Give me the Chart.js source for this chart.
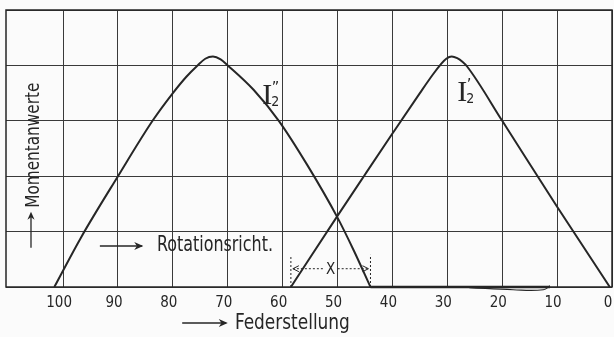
<!DOCTYPE html>
<html>
<head>
<meta charset="utf-8">
<script src="https://cdn.jsdelivr.net/npm/chart.js@4/dist/chart.umd.min.js"></script>
<style>
	html, body { margin: 0; padding: 0; background: #fbfbfb; }
	canvas { display: block; }
</style>
</head>
<body>
<canvas id="chart" width="614" height="337"></canvas>
<script>
// Federstellung (x) and Momentanwerte (y)
var I2b_x = [101.6, 96.7, 90, 83.7, 80, 77.5, 75.5, 74.1, 72.7, 71.3, 70, 65.3, 60.7, 55.5, 50.1, 47, 44];
var I2b_y = [0, 0.9, 2.0, 3.0, 3.5, 3.8, 4.0, 4.12, 4.16, 4.11, 4.0, 3.56, 3.0, 2.2, 1.27, 0.65, 0];

var I2a_x = [58.5, 50.1, 45.2, 40, 35, 32.6, 31.2, 30.2, 29.2, 28.2, 27.2, 26.4, 20, 10, 0.4];
var I2a_y = [0, 1.27, 2.0, 2.77, 3.5, 3.84, 4.02, 4.12, 4.16, 4.13, 4.06, 3.98, 3.0, 1.45, 0];

// thick zero line under I2' (pen stroke on the baseline)
var base_x = [44, 30, 20, 11.3];
var base_y = [0, 0, 0, 0];
var hook_x = [26, 18, 12.5, 11.3];
var hook_y = [-0.01, -0.05, -0.05, 0.02];

var xTicks = [100, 90, 80, 70, 60, 50, 40, 30, 20, 10, 0];
var X_MAX = 110.4;   // left border of the frame

// dimension "x" (between the zero crossings)
var dimFrom = 58.5, dimTo = 44;

var FONT = '"Liberation Sans Narrow", "DejaVu Sans Condensed", "Arial Narrow", sans-serif';
var INK = '#262626';

function pts(xs, ys) {
	var out = [];
	for (var i = 0; i < xs.length; i++) out.push({ x: xs[i], y: ys[i] });
	return out;
}

// squeeze text to the width it has in the scan
function fitText(ctx, text, x, y, width) {
	var w = ctx.measureText(text).width;
	ctx.save();
	ctx.translate(x, y);
	ctx.scale(width / w, 1);
	ctx.fillText(text, 0, 0);
	ctx.restore();
}

function arrowHead(ctx, x, y, dir, size) {
	ctx.beginPath();
	if (dir === 'right') {
		ctx.moveTo(x - size, y - size * 0.45);
		ctx.lineTo(x, y);
		ctx.lineTo(x - size, y + size * 0.45);
		ctx.lineTo(x - size * 0.7, y);
	} else {
		ctx.moveTo(x - size * 0.45, y + size);
		ctx.lineTo(x, y);
		ctx.lineTo(x + size * 0.45, y + size);
		ctx.lineTo(x, y + size * 0.7);
	}
	ctx.closePath();
	ctx.fill();
}

var notes = {
	id: 'notes',
	afterDatasetsDraw: function (chart) {
		var ctx = chart.ctx, xs = chart.scales.x, ys = chart.scales.y, area = chart.chartArea;
		ctx.save();
		ctx.strokeStyle = INK;
		ctx.fillStyle = INK;

		// frame
		ctx.lineWidth = 1.5;
		ctx.strokeRect(area.left, area.top, area.right - area.left, area.bottom - area.top);

		// -> Rotationsricht.
		var ry = ys.getPixelForValue(0.74);
		ctx.lineWidth = 1.3;
		ctx.beginPath();
		ctx.moveTo(xs.getPixelForValue(93.3), ry);
		ctx.lineTo(xs.getPixelForValue(85.6), ry);
		ctx.stroke();
		arrowHead(ctx, xs.getPixelForValue(85.4), ry, 'right', 9);
		ctx.font = '21px ' + FONT;
		ctx.textBaseline = 'middle';
		ctx.textAlign = 'left';
		fitText(ctx, 'Rotationsricht.', xs.getPixelForValue(82.9), ry, 116);

		// -> Federstellung
		var fy = area.bottom + 36;
		ctx.beginPath();
		ctx.moveTo(xs.getPixelForValue(78.3), fy);
		ctx.lineTo(xs.getPixelForValue(70.3), fy);
		ctx.stroke();
		arrowHead(ctx, xs.getPixelForValue(70), fy, 'right', 9);
		ctx.font = '22px ' + FONT;
		fitText(ctx, 'Federstellung', xs.getPixelForValue(68.7), fy, 115);

		// ^ Momentanwerte (vertical)
		var mx = xs.getPixelForValue(105.3);
		ctx.beginPath();
		ctx.moveTo(mx - 3, ys.getPixelForValue(0.71));
		ctx.lineTo(mx - 3, ys.getPixelForValue(1.3));
		ctx.stroke();
		arrowHead(ctx, mx - 3, ys.getPixelForValue(1.36), 'up', 8);
		ctx.save();
		ctx.translate(mx, ys.getPixelForValue(2.56));
		ctx.rotate(-Math.PI / 2);
		ctx.font = '20px ' + FONT;
		ctx.textAlign = 'center';
		fitText(ctx, 'Momentanwerte', 0, 0, 125);
		ctx.restore();

		// curve labels
		function curveLabel(v, val, primes) {
			var px = xs.getPixelForValue(v), py = ys.getPixelForValue(val);
			ctx.textAlign = 'left';
			ctx.textBaseline = 'alphabetic';
			ctx.font = '30px "Liberation Serif", "DejaVu Serif", serif';
			ctx.fillText('I', px, py);
			var w = ctx.measureText('I').width;
			ctx.font = '14px ' + FONT;
			ctx.fillText('2', px + w - 1, py + 2);
			ctx.font = '16px ' + FONT;
			ctx.fillText(primes, px + w - 0.5, py - 11);
		}
		curveLabel(63.7, 3.3, '\u201D');
		curveLabel(28.2, 3.35, '\u2019');

		// dimension x
		var x1 = xs.getPixelForValue(dimFrom), x2 = xs.getPixelForValue(dimTo);
		var dy = ys.getPixelForValue(0.33);
		ctx.lineWidth = 1;
		ctx.setLineDash([2, 2]);
		ctx.beginPath();
		ctx.moveTo(x1, ys.getPixelForValue(0));
		ctx.lineTo(x1, ys.getPixelForValue(0.55));
		ctx.moveTo(x2, ys.getPixelForValue(0));
		ctx.lineTo(x2, ys.getPixelForValue(0.58));
		ctx.moveTo(x1 + 2, dy);
		ctx.lineTo((x1 + x2) / 2 - 7, dy);
		ctx.moveTo((x1 + x2) / 2 + 7, dy);
		ctx.lineTo(x2 - 2, dy);
		ctx.stroke();
		ctx.setLineDash([]);
		ctx.beginPath();
		ctx.moveTo(x1 + 8, dy - 3);
		ctx.lineTo(x1 + 2, dy);
		ctx.lineTo(x1 + 8, dy + 3);
		ctx.moveTo(x2 - 8, dy - 3);
		ctx.lineTo(x2 - 2, dy);
		ctx.lineTo(x2 - 8, dy + 3);
		ctx.stroke();
		ctx.font = '15px ' + FONT;
		ctx.textAlign = 'center';
		ctx.textBaseline = 'middle';
		ctx.fillText('X', (x1 + x2) / 2, dy + 1);

		ctx.restore();
	}
};

var curveStyle = {
	borderColor: INK,
	borderWidth: 2,
	pointRadius: 0,
	fill: false,
	cubicInterpolationMode: 'monotone'
};

new Chart(document.getElementById('chart'), {
	type: 'line',
	data: {
		datasets: [
			Object.assign({ label: 'I2"', data: pts(I2b_x, I2b_y) }, curveStyle),
			Object.assign({ label: "I2'", data: pts(I2a_x, I2a_y) }, curveStyle),
			{ label: 'base', data: pts(base_x, base_y), borderColor: INK, borderWidth: 2.5, pointRadius: 0, clip: false },
			{ label: 'hook', data: pts(hook_x, hook_y), borderColor: INK, borderWidth: 1.2, pointRadius: 0, tension: 0.4, clip: false }
		]
	},
	options: {
		responsive: false,
		animation: false,
		layout: { padding: { left: 6, right: 2, top: 10, bottom: 18 } },
		plugins: {
			legend: { display: false },
			tooltip: { enabled: false }
		},
		scales: {
			x: {
				type: 'linear',
				reverse: true,
				min: 0,
				max: X_MAX,
				afterBuildTicks: function (scale) {
					scale.ticks = xTicks.map(function (v) { return { value: v }; });
				},
				afterFit: function (scale) {
					scale.paddingLeft = 0;
					scale.paddingRight = 0;
				},
				ticks: {
					autoSkip: false,
					maxRotation: 0,
					padding: 7,
					labelOffset: -4,
					color: INK,
					font: { family: FONT, size: 15 }
				},
				grid: { color: '#3a3a3a', lineWidth: 1, drawTicks: false },
				border: { display: false }
			},
			y: {
				min: 0,
				max: 5,
				ticks: { display: false, stepSize: 1 },
				grid: { color: '#3a3a3a', lineWidth: 1, drawTicks: false },
				border: { display: false }
			}
		}
	},
	plugins: [notes]
});
</script>
</body>
</html>
